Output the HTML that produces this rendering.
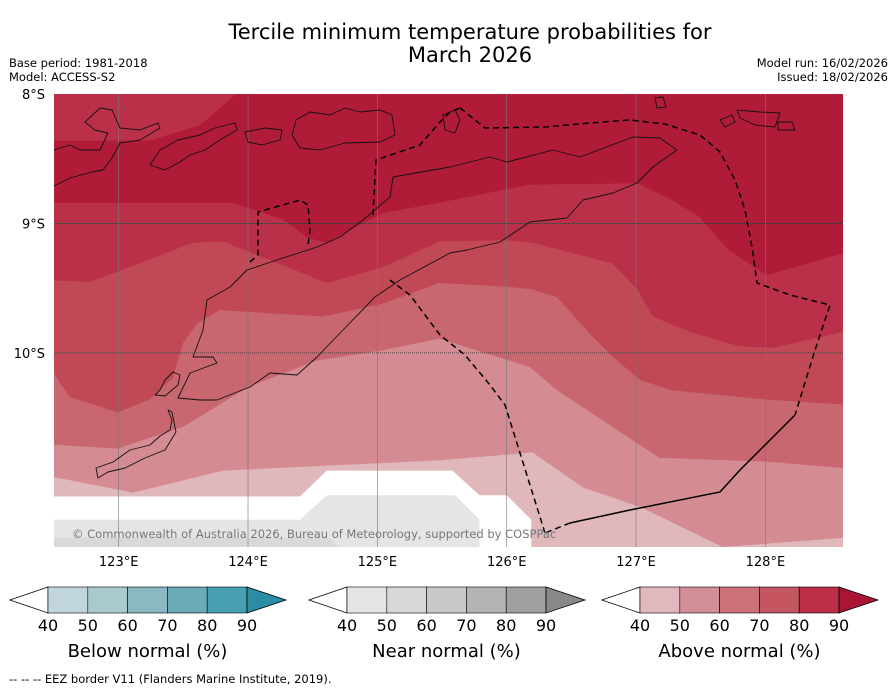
<!DOCTYPE html>
<html><head><meta charset="utf-8"><style>
html,body{margin:0;padding:0;background:#fff;}
svg{display:block;font-family:"DejaVu Sans","Liberation Sans",sans-serif;}
</style></head><body>
<svg id="chart" width="896" height="690" viewBox="0 0 896 690">
<text x="470" y="39" text-anchor="middle" font-size="21" fill="#000">Tercile minimum temperature probabilities for</text>
<text x="470" y="62" text-anchor="middle" font-size="21" fill="#000">March 2026</text>
<text x="9" y="67" font-size="11.5">Base period: 1981-2018</text>
<text x="9" y="81" font-size="11.5">Model: ACCESS-S2</text>
<text x="888" y="67" font-size="11.5" text-anchor="end">Model run: 16/02/2026</text>
<text x="888" y="81" font-size="11.5" text-anchor="end">Issued: 18/02/2026</text>
<g id="map"></g>
<g id="bars"></g>
<text x="9" y="683" font-size="11.5">--  --  -- EEZ border V11 (Flanders Marine Institute, 2019).</text>
</svg>
<script>
// contour boundaries (lower edge of each probability level), [lon, lat(°S)]
const levels = [40, 50, 60, 70, 80, 90];
const b40 = [[122.50,11.11],[124.40,11.11],[124.61,10.91],[125.58,10.91],[125.79,11.10],[126.00,11.10],[126.19,11.29],[126.19,11.50],[128.60,11.50]];
const b50 = [[122.50,10.96],[123.11,11.08],[123.81,10.91],[125.48,10.83],[126.20,10.77],[126.59,11.04],[127.03,11.19],[127.67,11.50],[128.60,11.43]];
const b60 = [[122.50,10.71],[122.99,10.74],[123.50,10.57],[124.01,10.26],[124.53,10.06],[125.04,9.98],[125.48,9.89],[126.18,10.11],[126.39,10.29],[126.77,10.54],[127.18,10.81],[128.01,10.84],[128.60,10.89]];
const b70 = [[122.50,10.16],[122.62,10.34],[122.99,10.46],[123.24,10.36],[123.42,10.19],[123.50,9.92],[123.61,9.77],[123.78,9.67],[124.58,9.72],[125.04,9.62],[125.48,9.46],[126.00,9.49],[126.20,9.51],[126.39,9.57],[126.64,9.85],[126.82,10.03],[127.03,10.21],[127.28,10.29],[128.01,10.36],[128.60,10.40]];
const b80 = [[122.50,9.44],[122.78,9.45],[123.24,9.28],[123.57,9.15],[123.81,9.14],[124.61,9.46],[125.04,9.34],[125.48,9.14],[126.00,9.13],[126.20,9.15],[126.82,9.31],[127.01,9.51],[127.13,9.72],[127.42,9.84],[127.80,9.95],[128.06,9.96],[128.60,9.84]];
const b90 = [[122.50,8.84],[123.88,8.84],[124.27,8.97],[124.46,9.11],[124.61,9.15],[124.79,9.05],[125.04,8.92],[125.48,8.84],[126.18,8.70],[127.01,8.69],[127.28,8.82],[127.49,8.95],[127.72,9.21],[128.01,9.40],[128.60,9.23]];
const notch80 = [[122.50,8.00],[123.91,8.00],[123.63,8.24],[123.24,8.36],[122.50,8.36]];
const nearNormal40 = [[122.5,11.29],[124.40,11.29],[124.61,11.10],[125.60,11.10],[125.79,11.29],[125.79,11.5],[122.5,11.5]];
const nearNormal50 = [[122.5,11.43],[124.63,11.43],[124.70,11.5],[122.5,11.5]];
const lonTicks = [123,124,125,126,127,128];
const latTicks = [8,9,10];
const barTicks = [40,50,60,70,80,90];
const barTitles = ["Below normal (%)","Near normal (%)","Above normal (%)"];

const NS="http://www.w3.org/2000/svg";
const X0=54,X1=843,Y0=94,Y1=547,LON0=122.5,LON1=128.6,LAT0=8,LAT1=11.5;
function xs(lon){return X0+(lon-LON0)/(LON1-LON0)*(X1-X0);}
function ys(lat){return Y0+(lat-LAT0)/(LAT1-LAT0)*(Y1-Y0);}
const map=document.getElementById('map');
function mk(tag,attrs,parent){const e=document.createElementNS(NS,tag);for(const k in attrs)e.setAttribute(k,attrs[k]);(parent||map).appendChild(e);return e;}
function ptsOf(arr){return arr.map(p=>xs(p[0]).toFixed(1)+','+ys(p[1]).toFixed(1)).join(' ');}
function above(arr){return ptsOf(arr)+' '+xs(LON1)+','+Y0+' '+xs(LON0)+','+Y0;}

mk('rect',{x:X0,y:Y0,width:X1-X0,height:Y1-Y0,fill:'#fff'});
let g=mk('polygon',{points:ptsOf(nearNormal40),fill:'#e5e5e5'});


g=mk('polygon',{points:ptsOf(nearNormal50),fill:'#d9d9d9'});


const bounds=[b40,b50,b60,b70,b80,b90];
const fills=['#e0b8bc','#d48b92','#c8676f','#c04955','#bb3049','#b01b38'];
bounds.forEach((b,i)=>{
  const p=mk('polygon',{points:above(b),fill:fills[i]});
  
  
});
g=mk('polygon',{points:ptsOf(notch80),fill:fills[4]});



// gridlines
lonTicks.forEach(l=>{
  const ln=mk('line',{x1:xs(l),x2:xs(l),y1:Y0,y2:Y1,stroke:'#777','stroke-width':0.6});
  
  
  const t=mk('text',{x:xs(l),y:566,'text-anchor':'middle','font-size':13});
  t.textContent=l+'°E';
  
  
});
latTicks.forEach(l=>{
  if(l>LAT0){
    const ln=mk('line',{x1:X0,x2:X1,y1:ys(l),y2:ys(l),stroke:'#333','stroke-width':0.8,'stroke-dasharray':'1,1'});
    
    
  }
  const t=mk('text',{x:45,y:ys(l)+5,'text-anchor':'end','font-size':13});
  t.textContent=l+'°S';
  
  
});

// coastlines
const coast=mk('g',{fill:'none',stroke:'#111','stroke-width':0.9,'stroke-linejoin':'round'});


const coastPaths=[
 "M450,167 L393,177 L390,197 L363,220 L340,237 L317,247 L277,260 L247,270 L230,287 L207,300 L203,330 L193,357 L213,357 L217,363 L190,373 L178,398 L200,400 L217,400 L250,387 L270,373 L297,375 L317,357 L343,330 L375,297 L400,280 L450,253 L467,250 L500,242 L530,222 L567,218 L583,200 L613,193 L637,183 L653,167 L677,150 L660,138 L633,137 L580,157 L553,150 L507,162 L490,157 Z",
 "M173,372 L165,380 L160,390 L155,395 L165,396 L172,390 L178,385 L180,375 Z",
 "M168,410 L172,420 L170,430 L160,436 L150,445 L130,450 L113,462 L96,468 L98,478 L108,472 L125,468 L145,458 L165,450 L176,432 L172,412 Z",
 "M54,186 L70,178 L92,172 L103,170 L112,158 L120,143 L140,140 L160,128 L158,123 L140,130 L120,128 L112,110 L100,108 L85,122 L95,130 L108,133 L100,150 L80,150 L70,145 L54,150",
 "M150,165 L160,150 L178,140 L200,135 L215,128 L235,123 L237,130 L220,140 L205,150 L190,155 L180,162 L165,170 Z",
 "M296,120 L310,112 L330,115 L345,108 L360,112 L380,110 L392,115 L395,135 L380,142 L345,143 L320,150 L300,148 L292,135 Z",
 "M245,132 L265,128 L282,130 L280,140 L262,145 L248,142 Z",
 "M443,115 L455,110 L460,120 L455,133 L445,130 Z",
 "M655,98 L663,97 L666,107 L657,108 Z",
 "M720,120 L732,115 L735,122 L725,127 Z",
 "M737,110 L760,112 L780,113 L775,127 L755,125 L740,118 Z",
 "M778,122 L792,122 L795,130 L778,130 Z"
];
coastPaths.forEach((d,i)=>{const p=mk('path',{d:d},coast);});

// EEZ borders
const eez=mk('g',{fill:'none',stroke:'#000','stroke-width':1.5});


const eezDashed=[
 "M545,533 L505,405 L490,385 L465,355 L440,335 L410,295 L390,280",
 "M460,108 L485,128 L545,127 L590,123 L630,120 L665,124 L700,135 L720,152 L735,180 L745,210 L752,247 L757,283 L790,295 L830,305 L815,350 L795,415",
 "M250,262 L258,255 L258,212 L300,200 L308,205 L310,230 L308,245",
 "M373,215 L376,160 L420,145 L440,122 L450,112 L460,108",
 "M570,523 L545,533"
];
eezDashed.forEach((d,i)=>{const p=mk('path',{d:d,'stroke-dasharray':'6,4'},eez);});
let s=mk('path',{d:"M795,415 L765,445 L740,470 L720,492 L630,510 L570,523"},eez);



let c=mk('text',{x:72,y:538,'font-size':11.5,fill:'#777'});
c.textContent='© Commonwealth of Australia 2026, Bureau of Meteorology, supported by COSPPac';



// colorbars
const bars=document.getElementById('bars');
const barDefs=[
 {x:48,cols:['#c0d6dc','#a9c9cd','#8bb8c2','#6aabb8','#47a0b0'],tip:'#2a8da3',name:'below-normal'},
 {x:347,cols:['#e5e5e5','#d8d8d8','#c8c8c8','#b4b4b4','#a0a0a0'],tip:'#888888',name:'near-normal'},
 {x:640,cols:['#e0b8bd','#d48f96','#cb7178','#c45660','#bb3048'],tip:'#aa1536',name:'above-normal'}
];
const BW=39.8,BY=587,BH=26;
barDefs.forEach((b,bi)=>{
  const gg=mk('g',{},bars);
  
  
  const w=BW*(barTicks.length-1);
  let t=mk('polygon',{points:`${b.x},${BY} ${b.x-38},${BY+BH/2} ${b.x},${BY+BH}`,fill:'#fff',stroke:'#000','stroke-width':0.8},gg);
  
  
  b.cols.forEach((col,i)=>{
    const r=mk('rect',{x:b.x+i*BW,y:BY,width:BW,height:BH,fill:col,stroke:'#000','stroke-width':0.6},gg);
    
    
  });
  t=mk('polygon',{points:`${b.x+w},${BY} ${b.x+w+39},${BY+BH/2} ${b.x+w},${BY+BH}`,fill:b.tip,stroke:'#000','stroke-width':0.8},gg);
  
  
  barTicks.forEach((v,i)=>{
    const tx=mk('text',{x:b.x+i*BW,y:631,'text-anchor':'middle','font-size':16},gg);
    tx.textContent=v;
    
    
  });
  const tt=mk('text',{x:b.x+w/2,y:657,'text-anchor':'middle','font-size':18},gg);
  tt.textContent=barTitles[bi];
  
  
});
</script>
</body></html>
